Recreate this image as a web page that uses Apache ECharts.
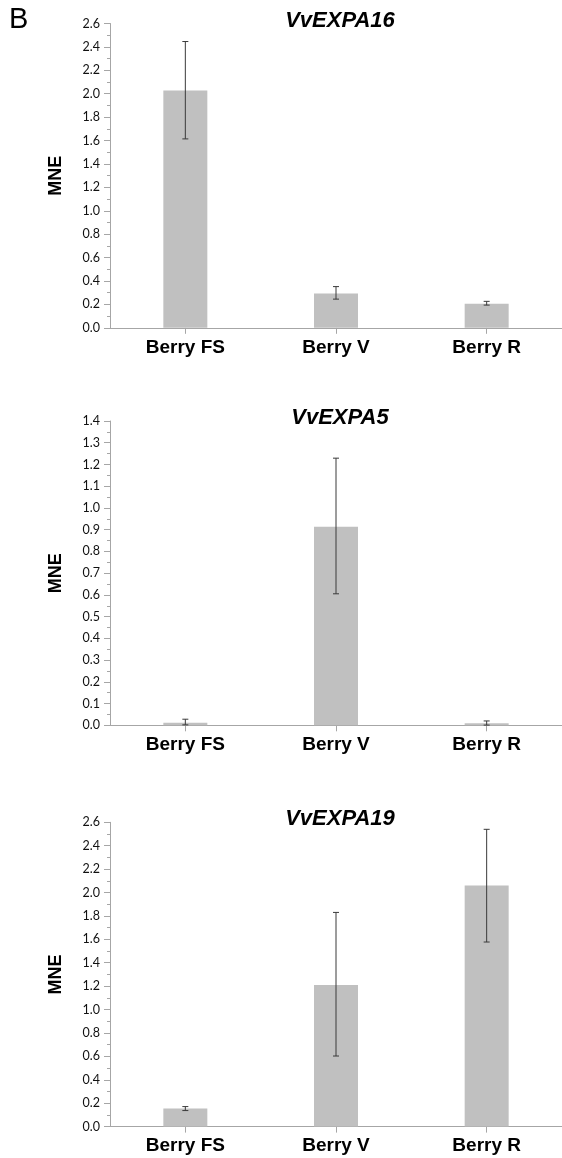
<!DOCTYPE html>
<html>
<head>
<meta charset="utf-8">
<script src="https://cdn.jsdelivr.net/npm/echarts@6/dist/echarts.min.js"></script>
<style>
html,body{margin:0;padding:0;background:#fff;}
#c{width:562px;height:1158px;}
</style>
</head>
<body>
<div id="c"></div>
<script>
const categories = ['Berry FS', 'Berry V', 'Berry R'];
const geneTitles = ['VvEXPA16', 'VvEXPA5', 'VvEXPA19'];

const mean16 = [2.027, 0.294, 0.205];
const low16  = [1.614, 0.245, 0.194];
const high16 = [2.446, 0.352, 0.226];

const mean5 = [0.012, 0.913, 0.009];
const low5  = [0.002, 0.605, 0.001];
const high5 = [0.028, 1.229, 0.020];

const mean19 = [0.154, 1.210, 2.060];
const low19  = [0.137, 0.603, 1.577];
const high19 = [0.171, 1.830, 2.540];

const yMax = [2.6, 1.4, 2.6];
const yInterval = [0.2, 0.1, 0.2];

const panels = [
  {mean: mean16, low: low16, high: high16},
  {mean: mean5, low: low5, high: high5},
  {mean: mean19, low: low19, high: high19}
];

const gridTops = [23.5, 421, 822.3];
const gridH = 304.3;
const gridLeft = 110;
const gridW = 456;

const axisColor = '#a6a6a6';

const chart = echarts.init(document.getElementById('c'), null, {renderer: 'canvas'});

const grids = [], xAxes = [], yAxes = [], series = [], graphics = [];

panels.forEach((p, i) => {
  grids.push({left: gridLeft, top: gridTops[i], width: gridW, height: gridH, containLabel: false});
  xAxes.push({
    type: 'category', gridIndex: i, data: categories, boundaryGap: true,
    axisLine: {show: true, lineStyle: {color: axisColor, width: 1}},
    axisTick: {show: true, alignWithLabel: true, length: 6, lineStyle: {color: axisColor}},
    axisLabel: {color: '#000', fontFamily: 'Liberation Sans, Arial', fontWeight: 'bold', fontSize: 19, margin: 10},
    splitLine: {show: false}
  });
  yAxes.push({
    type: 'value', gridIndex: i, min: 0, max: yMax[i], interval: yInterval[i],
    name: 'MNE', nameLocation: 'middle', nameGap: 45,
    nameTextStyle: {color: '#000', fontFamily: 'Liberation Sans, Arial', fontWeight: 'bold', fontSize: 18},
    axisLine: {show: true, lineStyle: {color: axisColor, width: 1}},
    axisTick: {show: true, length: 6, lineStyle: {color: axisColor}},
    minorTick: {show: true, splitNumber: 2, length: 3, lineStyle: {color: axisColor}},
    axisLabel: {color: '#111', fontFamily: 'Lato', fontSize: 12.5, margin: 10,
      formatter: v => v.toFixed(1)},
    splitLine: {show: false}, minorSplitLine: {show: false}
  });
  series.push({
    type: 'bar', xAxisIndex: i, yAxisIndex: i, data: p.mean, barWidth: 44,
    itemStyle: {color: '#c0c0c0'}, silent: true, animation: false
  });
  series.push({
    type: 'custom', xAxisIndex: i, yAxisIndex: i, z: 5, animation: false, silent: true,
    data: categories.map((c, k) => [k, p.low[k], p.high[k]]),
    renderItem: function (params, api) {
      const x = api.value(0);
      const lo = api.coord([x, api.value(1)]);
      const hi = api.coord([x, api.value(2)]);
      const cap = 3;
      const style = {stroke: '#3a3a3a', lineWidth: 1};
      return {
        type: 'group',
        children: [
          {type: 'line', shape: {x1: lo[0], y1: lo[1], x2: hi[0], y2: hi[1]}, style: style},
          {type: 'line', shape: {x1: hi[0] - cap, y1: hi[1], x2: hi[0] + cap, y2: hi[1]}, style: style},
          {type: 'line', shape: {x1: lo[0] - cap, y1: lo[1], x2: lo[0] + cap, y2: lo[1]}, style: style}
        ]
      };
    }
  });
  graphics.push({
    type: 'text', x: gridLeft + 230, y: gridTops[i] - 3,
    style: {text: geneTitles[i], fill: '#000', font: 'italic bold 22px "Liberation Sans", Arial',
      align: 'center', verticalAlign: 'middle'}
  });
});

graphics.push({
  type: 'text', x: 9, y: 20,
  style: {text: 'B', fill: '#000', font: '29px "Liberation Sans", Arial', align: 'left', verticalAlign: 'middle'}
});

chart.setOption({
  animation: false,
  backgroundColor: '#fff',
  grid: grids,
  xAxis: xAxes,
  yAxis: yAxes,
  series: series,
  graphic: graphics
});
</script>
</body>
</html>
